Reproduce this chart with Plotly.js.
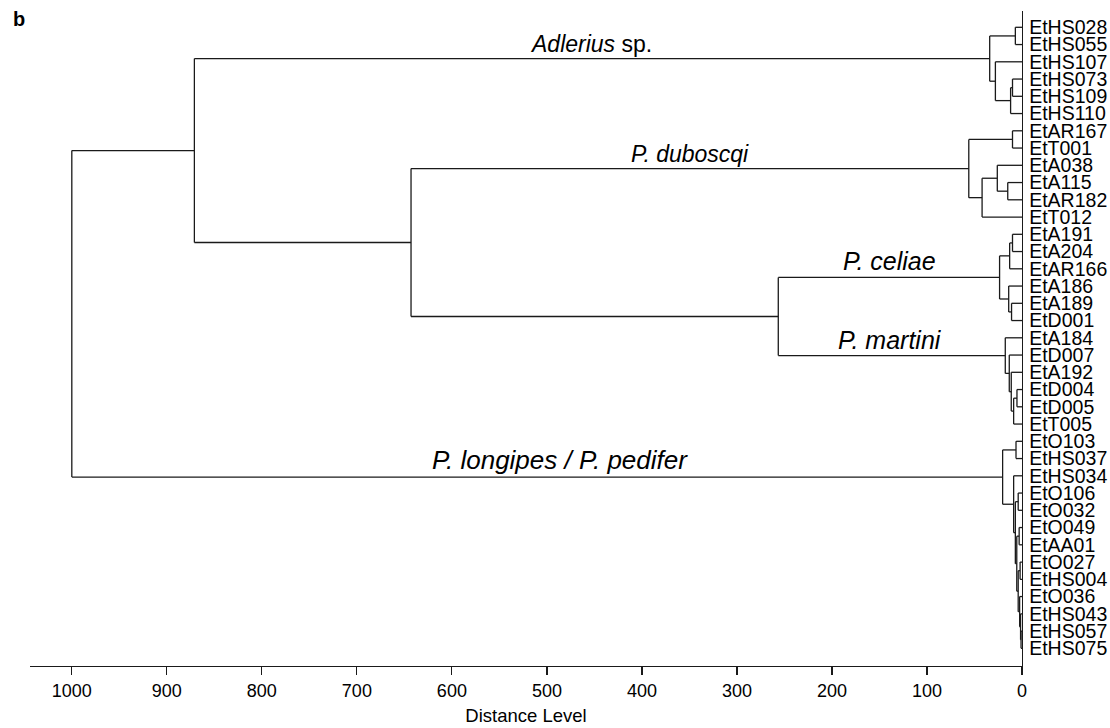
<!DOCTYPE html>
<html>
<head>
<meta charset="utf-8">
<script src="https://cdn.plot.ly/plotly-3.0.1.min.js"></script>
<style>html,body{margin:0;padding:0;background:#fff;}#chart{width:1110px;height:728px;}</style>
</head>
<body>
<div id="chart"></div>
<script>
// Leaf labels (top to bottom)
var leafNames = ["EtHS028","EtHS055","EtHS107","EtHS073","EtHS109","EtHS110",
  "EtAR167","EtT001","EtA038","EtA115","EtAR182","EtT012",
  "EtA191","EtA204","EtAR166","EtA186","EtA189","EtD001",
  "EtA184","EtD007","EtA192","EtD004","EtD005","EtT005",
  "EtO103","EtHS037","EtHS034","EtO106","EtO032","EtO049","EtAA01",
  "EtO027","EtHS004","EtO036","EtHS043","EtHS057","EtHS075"];
// Merges: node id of merge k = leafNames.length + k
var mergeLeft  = [0, 3, 38, 2, 37, 6, 9, 8, 44, 42, 12, 47, 16, 15, 48, 21, 52, 20, 19, 18, 51, 46, 41, 24, 35, 34, 33, 31, 64, 29, 66, 27, 68, 26, 60, 59];
var mergeRight = [1, 4, 5, 39, 40, 7, 10, 43, 11, 45, 13, 14, 17, 49, 50, 22, 23, 53, 54, 55, 56, 57, 58, 25, 36, 61, 62, 32, 63, 30, 65, 28, 67, 69, 70, 71];
var mergeHeight = [7, 10, 12, 28, 34, 10, 15, 26, 42, 56, 10, 13, 11, 14, 23.6, 5.3, 8.8, 11.3, 13.4, 17.6, 256.5, 643, 871, 6.3, 1, 1.5, 2.5, 2, 4, 3, 5.5, 4, 7, 8.8, 20.4, 1000];
// Clade labels and the node whose branch they label
var cladeLabels = ["<i>Adlerius</i> sp.", "<i>P. duboscqi</i>", "<i>P. celiae</i>", "<i>P. martini</i>", "<i>P. longipes / P. pedifer</i>"];
var cladeNodes = [41, 46, 51, 56, 71];
var xTicks = [0,100,200,300,400,500,600,700,800,900,1000];

var nLeaf = leafNames.length;
var nodeX = [], nodeY = [];
for (var i = 0; i < nLeaf; i++) { nodeX.push(0); nodeY.push(i); }
var sx = [], sy = [];
for (var k = 0; k < mergeHeight.length; k++) {
  var a = mergeLeft[k], b = mergeRight[k], h = mergeHeight[k];
  sx.push(nodeX[a], h, null); sy.push(nodeY[a], nodeY[a], null);
  sx.push(nodeX[b], h, null); sy.push(nodeY[b], nodeY[b], null);
  sx.push(h, h, null); sy.push(nodeY[a], nodeY[b], null);
  nodeX.push(h); nodeY.push((nodeY[a] + nodeY[b]) / 2);
}
// label placement (centre along the distance axis, font size)
var cladeX = [454, 349, 139, 139, 486];
var cladeSize = [23, 23, 25, 25, 26];
var annotations = [];
for (var c = 0; c < cladeLabels.length; c++) {
  annotations.push({x: cladeX[c], y: nodeY[cladeNodes[c]], xref: 'x', yref: 'y', text: cladeLabels[c],
    showarrow: false, xanchor: 'center', yanchor: 'bottom', yshift: 0,
    font: {family: 'Liberation Sans, Arial, sans-serif', size: cladeSize[c], color: '#000'}});
}
annotations.push({x: -0.019, y: 1.008, xref: 'paper', yref: 'paper', text: '<b>b</b>', showarrow: false,
  xanchor: 'left', yanchor: 'top', font: {family: 'Liberation Sans, Arial, sans-serif', size: 20, color: '#000'}});

var trace = {x: sx, y: sy, mode: 'lines', type: 'scatter', line: {color: '#1a1a1a', width: 1.3}, hoverinfo: 'skip', showlegend: false};
var tv = []; for (var j = 0; j < nLeaf; j++) tv.push(j);
var layout = {
  width: 1110, height: 728,
  margin: {l: 30, r: 88, t: 11, b: 62},
  paper_bgcolor: '#fff', plot_bgcolor: '#fff',
  font: {family: 'Liberation Sans, Arial, sans-serif', color: '#000'},
  showlegend: false,
  xaxis: {range: [1044, 0], tickvals: xTicks, ticks: 'outside', ticklen: 8, tickcolor: '#1a1a1a', tickwidth: 1.2,
    showline: true, linecolor: '#1a1a1a', linewidth: 1.3, showgrid: false, zeroline: false,
    tickfont: {size: 18}, title: {text: 'Distance Level', font: {size: 18.5}, standoff: 9}, automargin: false},
  yaxis: {range: [37.026, -0.945], side: 'right', tickvals: tv, ticktext: leafNames, ticks: '',
    showline: true, linecolor: '#1a1a1a', linewidth: 1.3, showgrid: false, zeroline: false,
    tickfont: {size: 19.5}, ticklabelstandoff: 2, automargin: false},
  annotations: annotations
};
Plotly.newPlot('chart', [trace], layout, {displayModeBar: false, staticPlot: true});
</script>
</body>
</html>
